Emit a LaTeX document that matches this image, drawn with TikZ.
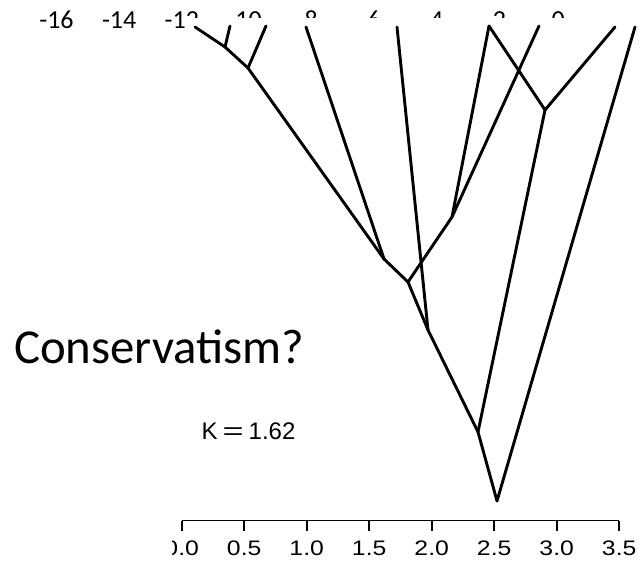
\documentclass[tikz,border=0pt]{standalone}
\usepackage{fontspec}
\usepackage{graphicx}
\setmainfont{Carlito}
\newfontfamily\helv{Liberation Sans}
\begin{document}
\begin{tikzpicture}[x=1pt,y=-1pt,
  branch/.style={line width=2.9pt, line cap=round, line join=round},
  axisline/.style={line width=1.6pt},
  toplab/.style={font=\fontsize{26}{30}\selectfont, inner sep=0pt},
  axlab/.style={font=\helv\fontsize{21}{24}\selectfont, inner sep=0pt},
  mask/.style={fill=white, draw=none}
]
\useasboundingbox (0,0) rectangle (642,561);
\fill[white] (0,0) rectangle (642,561);

% top scale labels (partly hidden by the tree picture)
\foreach \v [count=\i from 0] in {-16,-14,-12,-10,-8,-6,-4,-2,0}{
  \node[toplab] (top\i) at ({56.5+62.7*\i},20) {\v};
}
\path[mask] (186,18.3) rectangle (642,50);

% tree coordinates
\coordinate (t1) at (195,27);
\coordinate (t2) at (230,26);
\coordinate (n1) at (225,47);
\coordinate (n2) at (248,68);
\coordinate (t3) at (266,26);
\coordinate (n3) at (384,259);
\coordinate (t4) at (306,27);
\coordinate (n4) at (408,282);
\coordinate (t5) at (397,27);
\coordinate (n6) at (428,330);
\coordinate (n5) at (452,217);
\coordinate (t6) at (489,26);
\coordinate (t7) at (539,26);
\coordinate (n7) at (545,110);
\coordinate (t8) at (615,27);
\coordinate (n8) at (478,432);
\coordinate (root) at (497,501);
\coordinate (t9) at (635,27);

\draw[branch] (t1) -- (n1);
\draw[branch] (t2) -- (n1);
\draw[branch] (n1) -- (n2);
\draw[branch] (t3) -- (n2);
\draw[branch] (n2) -- (n3);
\draw[branch] (t4) -- (n3);
\draw[branch] (n3) -- (n4);
\draw[branch] (n4) -- (n5);
\draw[branch] (n5) -- (t6);
\draw[branch] (n5) -- (t7);
\draw[branch] (n4) -- (n6);
\draw[branch] (t5) -- (n6);
\draw[branch] (n6) -- (n8);
\draw[branch] (t6) -- (n7);
\draw[branch] (t8) -- (n7);
\draw[branch] (n7) -- (n8);
\draw[branch] (n8) -- (root);
\draw[branch] (t9) -- (root);

% axis
\coordinate (ax0) at (181.7,520.5);
\coordinate (ax1) at (619.2,520.5);
\draw[axisline] (ax0) -- (ax1);
\foreach \lab [count=\i from 0] in {0.0,0.5,1.0,1.5,2.0,2.5,3.0,3.5}{
  \coordinate (tk\i) at ({181.7+62.5*\i},520.5);
  \coordinate (tb\i) at ({181.7+62.5*\i},531);
  \draw[axisline] (tk\i) -- (tb\i);
  \node[axlab] (al\i) at ({181.7+62.5*\i},548) {\scalebox{1.18}[1]{\lab}};
}
\path[mask] (140,534) rectangle (171.5,561);

% texts
\node[font=\helv\fontsize{24}{28}\selectfont, inner sep=0pt] (K) at (248.5,431.3)
  {K\kern5pt\scalebox{1.5}[1]{=}\kern5pt1.62};
\node[font=\fontsize{48.8}{56}\selectfont, inner sep=0pt, anchor=base west] (title) at (14,363) {Conservatism?};
\end{tikzpicture}
\end{document}
